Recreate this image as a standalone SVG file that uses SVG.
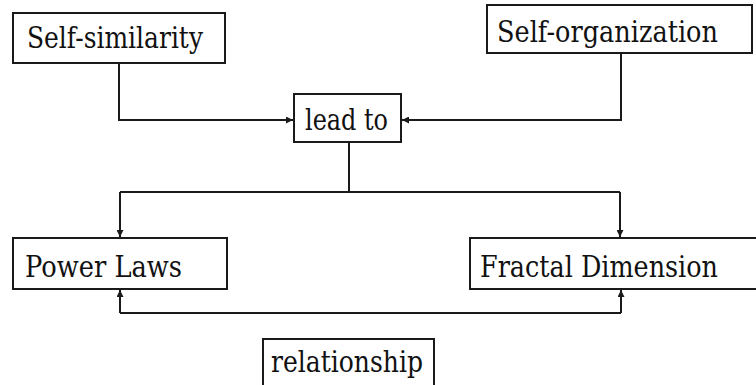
<svg xmlns="http://www.w3.org/2000/svg" width="756" height="385" viewBox="0 0 756 385">
<style>
.box{fill:#fff;stroke:#1a1a1a;stroke-width:2}
.t{font-family:"DejaVu Serif","Liberation Serif",serif;font-size:29px;fill:#111}
.c{fill:none;stroke:#1a1a1a;stroke-width:2}
</style>
<defs>
<marker id="ah" viewBox="0 0 8 8" refX="8" refY="4" markerWidth="7" markerHeight="7" markerUnits="userSpaceOnUse" orient="auto">
<path d="M0,0L8,4L0,8z" fill="#1a1a1a"/>
</marker>
</defs>
<rect width="756" height="385" fill="#fff"/>
<g id="connectors">
<path class="c" d="M119,63V120H293" marker-end="url(#ah)"/>
<path class="c" d="M621,53V120H402" marker-end="url(#ah)"/>
<path class="c" d="M349,142V192"/>
<path class="c" d="M120,192H620"/>
<path class="c" d="M120,192V237" marker-end="url(#ah)"/>
<path class="c" d="M620,192V237" marker-end="url(#ah)"/>
<path class="c" d="M120,313H621"/>
<path class="c" d="M120,313V290" marker-end="url(#ah)"/>
<path class="c" d="M621,313V290" marker-end="url(#ah)"/>
</g>
<g id="self-similarity">
<rect class="box" x="13" y="13" width="212" height="50"/>
<text class="t" x="27" y="48" textLength="176" lengthAdjust="spacingAndGlyphs">Self-similarity</text>
</g>
<g id="self-organization">
<rect class="box" x="487" y="5" width="265" height="48"/>
<text class="t" x="497" y="42" textLength="221" lengthAdjust="spacingAndGlyphs">Self-organization</text>
</g>
<g id="lead-to">
<rect class="box" x="294" y="94" width="107" height="48"/>
<text class="t" x="305" y="130" textLength="83" lengthAdjust="spacingAndGlyphs">lead to</text>
</g>
<g id="power-laws">
<rect class="box" x="13" y="238" width="214" height="51"/>
<text class="t" x="25" y="277" textLength="157" lengthAdjust="spacingAndGlyphs">Power Laws</text>
</g>
<g id="fractal-dimension">
<rect class="box" x="470" y="238" width="290" height="51"/>
<text class="t" x="480" y="277" textLength="238" lengthAdjust="spacingAndGlyphs">Fractal Dimension</text>
</g>
<g id="relationship">
<rect class="box" x="263" y="339" width="171" height="50"/>
<text class="t" x="271" y="372" textLength="152" lengthAdjust="spacingAndGlyphs">relationship</text>
</g>
</svg>
